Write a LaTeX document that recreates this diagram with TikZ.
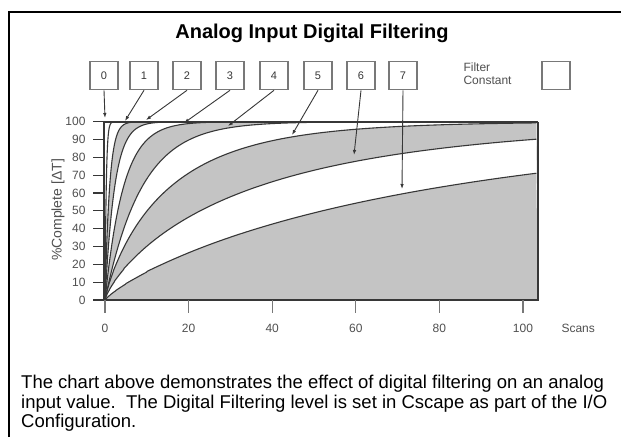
\documentclass[tikz,border=0pt]{standalone}
\usepackage{fontspec}
\setmainfont{Liberation Sans}
\usetikzlibrary{arrows.meta}
\definecolor{fillgray}{RGB}{196,196,196}
\definecolor{ink}{RGB}{55,55,55}
\definecolor{boxgray}{RGB}{120,120,120}
\definecolor{lblgray}{RGB}{80,80,80}
\begin{document}
\begin{tikzpicture}[x=1pt,y=-1pt,
  declare function={Xn(\q)=105+4.18*\q; Yv(\q,\tu,\pe)=300-178.3*(1-exp(-min(20,pow(\q/\tu,\pe))));},
  fcbox/.style={draw=boxgray, line width=1.6pt, minimum width=28pt, minimum height=28pt, inner sep=0pt, font=\fontsize{11}{13}\selectfont, text=ink},
  crv/.style={draw=ink, line width=1.1pt},
  arr/.style={draw=ink, line width=0.9pt, -{Latex[length=5pt,width=3.5pt]}},
  ylbl/.style={font=\fontsize{12}{14}\selectfont, text=lblgray, anchor=east},
  xlbl/.style={font=\fontsize{12}{14}\selectfont, text=lblgray},
  body/.style={font=\fontsize{18.5}{19}\selectfont, anchor=base west, inner sep=0pt}]
\useasboundingbox (0,0) rectangle (621,437);
\fill[white] (0,0) rectangle (621,437);
% frame
\draw[line width=2pt] (9,437) -- (9,12) -- (621,12);
% title
\node[font=\bfseries\fontsize{20}{24}\selectfont] (title) at (312,33) {Analog Input Digital Filtering};
% region fills
\foreach \tu/\pe/\col in {0.3/1/white, 1.1/1/fillgray, 2.3/1/white, 4.4/1/fillgray, 8.8/1/white, 15.5/0.85/fillgray, 36/0.8/white, 80/0.85/fillgray}{
  \fill[fill=\col] (105,300) -- plot[variable=\s, domain=0.05:1, samples=160] ({Xn(103.6*\s^3)}, {Yv(103.6*\s^3,\tu,\pe)}) -- (538,300) -- cycle;
}
\foreach \tu/\pe in {0.3/1, 1.1/1, 2.3/1, 4.4/1, 8.8/1, 15.5/0.85, 36/0.8, 80/0.85}{
  \draw[crv] (105,300) -- plot[variable=\s, domain=0.05:1, samples=160] ({Xn(103.6*\s^3)}, {Yv(103.6*\s^3,\tu,\pe)});
}
% chart frame
\draw[ink, line width=1.4pt] (104,300) -- (538,300) -- (538,121.7);
\draw[ink, line width=1.2pt] (104,300) -- (104,121.7);
\draw[ink, line width=2pt] (104,121.7) -- (538,121.7);
% y ticks
\foreach \v in {0,10,...,100}{
  \draw[ink, line width=1.1pt] (93,{300-1.783*\v}) -- (104,{300-1.783*\v});
  \node[ylbl] (y\v) at (89,{300-1.783*\v}) {\v};
}
% x ticks
\foreach \v in {0,20,...,100}{
  \draw[boxgray, line width=1.1pt] ({105+4.18*\v},300) -- ({105+4.18*\v},313);
  \node[xlbl] (x\v) at ({105+4.18*\v},328) {\v};
}
\node[xlbl, anchor=west] (scans) at (558,328) {Scans};
\node[font=\fontsize{14}{16}\selectfont, text=lblgray, rotate=90] (ylab) at (58,210) {\%Complete [ΔT]};
% filter constant boxes
\foreach \k/\x in {0/104, 1/144, 2/187, 3/230, 4/274, 5/318, 6/361, 7/403}{
  \node[fcbox] (b\k) at (\x,75.5) {\k};
}
\node[font=\fontsize{12}{13}\selectfont, text=lblgray, align=left, anchor=west] (fclab) at (460,74) {Filter\\Constant};
\node[fcbox] (fcempty) at (556,75.5) {};
% arrows
\coordinate (t0) at (105,118);
\coordinate (t1) at (125,121);
\coordinate (t2) at (146,120);
\coordinate (t3) at (184,123);
\coordinate (t4) at (228,126);
\coordinate (t5) at (292,135);
\coordinate (t6) at (354,155);
\coordinate (t7) at (402,189);
\foreach \k in {0,...,7}{
  \draw[arr] (b\k.south) -- (t\k);
}
% body text
\node[body] (l1) at (21,388.5) {The chart above demonstrates the effect of digital filtering on an analog};
\node[body] (l2) at (21,408) {input value.\ \ The Digital Filtering level is set in Cscape as part of the I/O};
\node[body] (l3) at (21,427.5) {Configuration.};
\end{tikzpicture}
\end{document}
